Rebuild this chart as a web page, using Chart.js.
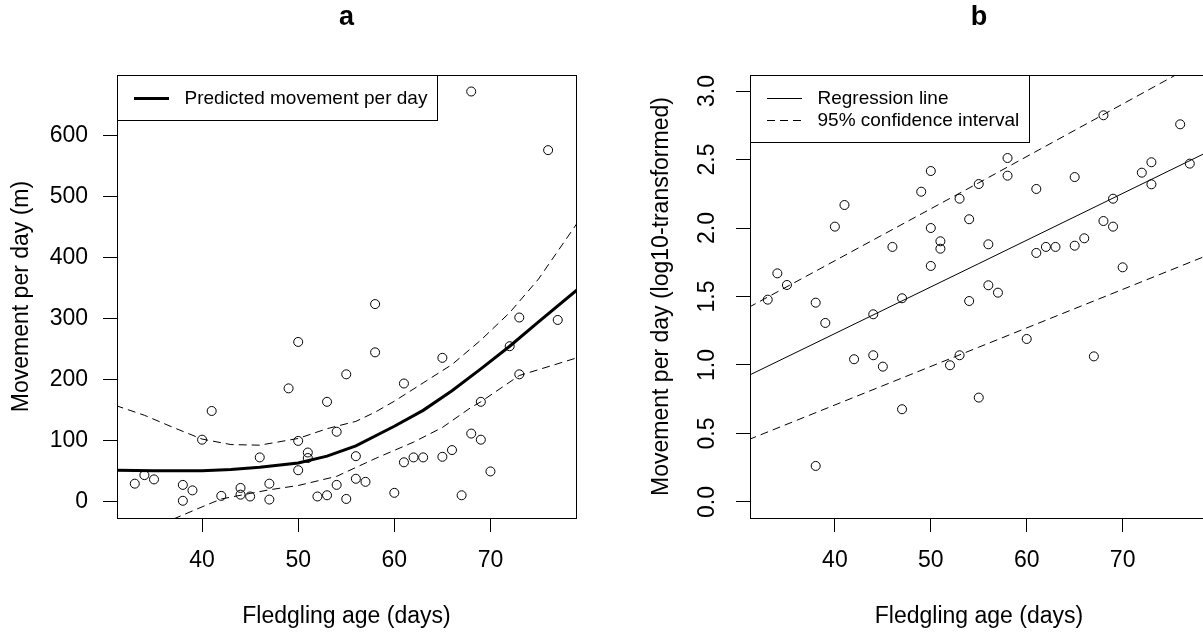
<!DOCTYPE html>
<html>
<head>
<meta charset="utf-8">
<script src="https://cdn.jsdelivr.net/npm/chart.js@4.4.0/dist/chart.umd.min.js"></script>
<style>
html, body { margin: 0; padding: 0; background: #fff; overflow: hidden; }
#wrap { position: relative; width: 1203px; height: 633px; overflow: hidden; }
canvas { position: absolute; top: 0; }
#chartA { left: 0; }
#chartB { left: 640px; }
</style>
</head>
<body>
<div id="wrap">
<canvas id="chartA" width="600" height="633"></canvas>
<canvas id="chartB" width="575" height="633"></canvas>
</div>
<script>
// observed fledglings, panel a (m per day)
var ageA = [33, 34, 35, 38, 38, 39, 40, 41, 42, 44, 44, 45, 46, 47, 47, 49, 50, 50, 50, 51, 51, 52, 53, 53, 54, 54, 55, 55, 56, 56, 57, 58, 58, 60, 61, 61, 62, 63, 65, 65, 66, 67, 68, 68, 69, 69, 70, 72, 73, 73, 76, 77];
var moveA = [30, 44, 37, 28, 2, 19, 102, 149, 10, 23, 12, 9, 73, 30, 4, 186, 262, 100, 52, 81, 72, 9, 164, 11, 115, 28, 209, 5, 75, 38, 33, 324, 245, 15, 194, 65, 73, 73, 236, 74, 85, 11, 672, 112, 164, 102, 50, 255, 302, 209, 576, 298];

// fitted curve + 95% CI, panel a
var curveAge = [31, 35, 40, 43, 46, 50, 53, 56, 60, 63, 66, 69, 72, 75, 79];
var curveMove = [52, 51, 51, 53, 57, 64, 75, 92, 124, 150, 182, 218, 255, 295, 347];
var upperAge = [31, 34, 37, 40, 43, 46, 50, 53, 56, 58, 60, 63, 66, 69, 72, 75, 79];
var upperMove = [158, 142, 122, 103, 94, 93, 104, 120, 132, 147, 165, 195, 225, 265, 310, 365, 456];
var lowerAge = [37, 40, 42, 45, 47, 50, 54, 58, 62, 65, 68, 69, 73, 79];
var lowerMove = [-28, -8, 5, 14, 20, 27, 42, 71, 98, 122, 155, 164, 207, 236];

// panel b (log10 of movement)
var ageB = [33, 34, 35, 38, 38, 39, 40, 41, 42, 44, 44, 45, 46, 47, 47, 49, 50, 50, 50, 51, 51, 52, 53, 53, 54, 54, 55, 55, 56, 56, 57, 58, 58, 60, 61, 61, 62, 63, 65, 65, 66, 67, 68, 68, 69, 69, 70, 72, 73, 73, 76, 77];
var logMoveB = [1.477, 1.669, 1.584, 1.455, 0.263, 1.307, 2.01, 2.168, 1.042, 1.37, 1.071, 0.988, 1.862, 1.487, 0.677, 2.265, 2.416, 2.0, 1.723, 1.903, 1.849, 0.998, 2.214, 1.071, 2.064, 1.467, 2.321, 0.762, 1.881, 1.582, 1.528, 2.511, 2.382, 1.19, 2.285, 1.818, 1.862, 1.862, 2.372, 1.871, 1.925, 1.063, 2.823, 2.051, 2.214, 2.01, 1.713, 2.404, 2.48, 2.319, 2.757, 2.47];
var lineAgeB = [31, 55, 79];
var regB = [0.923, 1.74, 2.56];
var upperB = [1.42, 2.33, 3.25];
var lowerB = [0.455, 1.13, 1.805];

var ageTicks = [40, 50, 60, 70];
var moveTicks = [0, 100, 200, 300, 400, 500, 600];
var logTicks = [0, 0.5, 1, 1.5, 2, 2.5, 3];

var font = '"Liberation Sans", Arial, sans-serif';

function pairs(xs, ys) {
	return xs.map(function (x, i) {
		return { x: x, y: ys[i] };
	});
}

// box round the plot region, like R's box()
var frame = {
	id: "frame",
	afterDraw: function (chart) {
		var a = chart.chartArea;
		var ctx = chart.ctx;
		ctx.save();
		ctx.strokeStyle = "#000";
		ctx.lineWidth = 1;
		ctx.strokeRect(a.left + 0.5, a.top + 0.5, a.right - a.left, a.bottom - a.top);
		ctx.restore();
	},
};

// R-style legend in the top left corner
var boxLegend = {
	id: "boxLegend",
	afterDatasetsDraw: function (chart, args, opts) {
		var a = chart.chartArea;
		var ctx = chart.ctx;
		var sets = opts.items.map(function (i) {
			return chart.data.datasets[i];
		});
		ctx.save();
		ctx.font = "19px " + font;
		var textW = 0;
		sets.forEach(function (ds) {
			textW = Math.max(textW, ctx.measureText(ds.label).width);
		});
		var w = Math.round(67 + textW + 10);
		var h = Math.round(23 + (sets.length - 1) * 21.7 + 22);
		ctx.fillStyle = "#fff";
		ctx.fillRect(a.left, a.top, w, h);
		ctx.strokeStyle = "#000";
		ctx.lineWidth = 1;
		ctx.strokeRect(a.left + 0.5, a.top + 0.5, w, h);
		sets.forEach(function (ds, i) {
			var y = Math.round(a.top + 23 + i * 21.7) + 0.5;
			ctx.lineWidth = ds.borderWidth;
			ctx.setLineDash(ds.borderDash || []);
			ctx.beginPath();
			ctx.moveTo(a.left + 17, y);
			ctx.lineTo(a.left + 52, y);
			ctx.stroke();
			ctx.setLineDash([]);
			ctx.fillStyle = "#000";
			ctx.textBaseline = "middle";
			ctx.fillText(ds.label, a.left + 67.5, y);
		});
		ctx.restore();
	},
};

function xAxis() {
	return {
		type: "linear",
		min: 31.15,
		max: 78.9,
		afterBuildTicks: function (s) {
			s.ticks = ageTicks.map(function (v) { return { value: v }; });
		},
		afterFit: function (s) { s.height = 115; },
		grid: { drawOnChartArea: false, drawTicks: true, tickLength: 14, color: "#000", lineWidth: 1 },
		border: { display: false },
		ticks: { color: "#000", font: { family: font, size: 23 }, padding: 15, maxRotation: 0, autoSkip: false },
		title: { display: true, text: "Fledgling age (days)", color: "#000", font: { family: font, size: 23 }, padding: { top: 0, bottom: 3 } },
	};
}

function panelTitle(txt) {
	return {
		display: true,
		text: txt,
		fullSize: false,
		color: "#000",
		font: { family: font, size: 27, weight: "bold" },
		padding: { top: 1, bottom: 41.6 },
	};
}

var dots = {
	pointRadius: 4.5,
	pointBorderWidth: 1,
	borderColor: "#000",
	backgroundColor: "rgba(0,0,0,0)",
	pointStyle: "circle",
};

function curve(label, data, width, dash) {
	return {
		label: label,
		data: data,
		showLine: true,
		pointRadius: 0,
		borderColor: "#000",
		borderWidth: width,
		borderDash: dash,
		clip: 0,
	};
}

new Chart(document.getElementById("chartA"), {
	type: "scatter",
	data: {
		datasets: [
			Object.assign({ label: "observed", data: pairs(ageA, moveA) }, dots),
			curve("Predicted movement per day", pairs(curveAge, curveMove), 3, []),
			curve("upper 95%", pairs(upperAge, upperMove), 1, [8, 5]),
			curve("lower 95%", pairs(lowerAge, lowerMove), 1, [8, 5]),
		],
	},
	options: {
		responsive: false,
		animation: false,
		devicePixelRatio: 1,
		events: [],
		layout: { padding: { left: 0, right: 24, top: 0, bottom: 0 } },
		scales: {
			x: xAxis(),
			y: {
				type: "linear",
				min: -26.2,
				max: 699,
				afterBuildTicks: function (s) {
					s.ticks = moveTicks.map(function (v) { return { value: v }; });
				},
				afterFit: function (s) { s.width = 117; },
				grid: { drawOnChartArea: false, drawTicks: true, tickLength: 14, color: "#000", lineWidth: 1 },
				border: { display: false },
				ticks: { color: "#000", font: { family: font, size: 23 }, padding: 15, autoSkip: false },
				title: { display: true, text: "Movement per day (m)", color: "#000", font: { family: font, size: 23 }, padding: { top: 7.7, bottom: 0 } },
			},
		},
		plugins: {
			legend: { display: false },
			tooltip: { enabled: false },
			title: panelTitle("a"),
			boxLegend: { items: [1] },
		},
	},
	plugins: [frame, boxLegend],
});

new Chart(document.getElementById("chartB"), {
	type: "scatter",
	data: {
		datasets: [
			Object.assign({ label: "observed", data: pairs(ageB, logMoveB) }, dots),
			curve("Regression line", pairs(lineAgeB, regB), 1, []),
			curve("95% confidence interval", pairs(lineAgeB, upperB), 1, [8, 5]),
			curve("lower", pairs(lineAgeB, lowerB), 1, [8, 5]),
		],
	},
	options: {
		responsive: false,
		animation: false,
		devicePixelRatio: 1,
		events: [],
		layout: { padding: { left: 0, right: 7, top: 0, bottom: 0 } },
		scales: {
			x: xAxis(),
			y: {
				type: "linear",
				min: -0.117,
				max: 3.117,
				afterBuildTicks: function (s) {
					s.ticks = logTicks.map(function (v) { return { value: v }; });
				},
				afterFit: function (s) { s.width = 110; },
				grid: { drawOnChartArea: false, drawTicks: true, tickLength: 14, color: "#000", lineWidth: 1 },
				border: { display: false },
				ticks: {
					color: "#000",
					font: { family: font, size: 23 },
					padding: 12.7,
					minRotation: 90,
					maxRotation: 90,
					crossAlign: "center",
					autoSkip: false,
					callback: function (v) { return v.toFixed(1); },
				},
				title: { display: true, text: "Movement per day (log10-transformed)", color: "#000", font: { family: font, size: 23 }, padding: { top: 8, bottom: 0 } },
			},
		},
		plugins: {
			legend: { display: false },
			tooltip: { enabled: false },
			title: panelTitle("b"),
			boxLegend: { items: [1, 2] },
		},
	},
	plugins: [frame, boxLegend],
});
</script>
</body>
</html>
